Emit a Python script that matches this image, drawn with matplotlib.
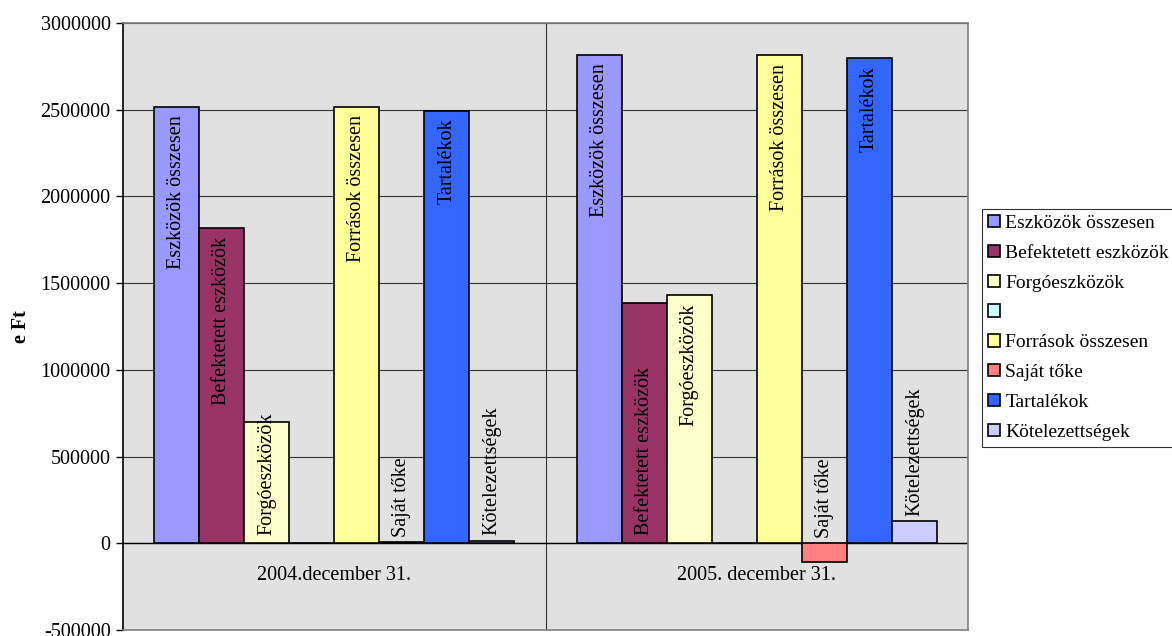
import matplotlib
matplotlib.use("Agg")
import matplotlib.pyplot as plt
import numpy as np

plt.rcParams['font.family'] = ['Liberation Serif', 'DejaVu Serif']

categories = ['2004.december 31.', '2005. december 31.']
series_names = ['Eszközök összesen', 'Befektetett eszközök', 'Forgóeszközök', '',
                'Források összesen', 'Saját tőke', 'Tartalékok', 'Kötelezettségek']
eszkozok = [2515000, 2814000]
befektetett = [1816000, 1384000]
forgo = [699000, 1430000]
ures = [0, 0]
forrasok = [2515000, 2814000]
sajat_toke = [5000, -110000]
tartalekok = [2495000, 2797000]
kotelezettsegek = [15000, 127000]
colors = ['#9999FF', '#993366', '#FFFFCC', '#CCFFFF',
          '#FFFF99', '#FF8080', '#3366FF', '#CCCCFF']

values = [eszkozok, befektetett, forgo, ures, forrasok, sajat_toke, tartalekok, kotelezettsegek]

# where each data label sits: inside top, inside base, or above the bar
label_modes = [['top', 'top'], ['top', 'base'], ['base', 'top'], ['', ''],
               ['top', 'top'], ['above', 'above'], ['top', 'top'], ['above', 'above']]

FS = 14.5

fig = plt.figure(figsize=(11.72, 6.36), dpi=100)
ax = fig.add_axes([0.105, 0.0094, 0.721, 0.9544])
ax.set_facecolor('#e1e1e1')

x = np.arange(len(categories))
width = 0.1066
n = len(series_names)
handles = []
for i, (name, vals, col) in enumerate(zip(series_names, values, colors)):
    pos = x + (i - (n - 1) / 2) * width
    b = ax.bar(pos, vals, width, color=col, edgecolor='black', linewidth=1.2,
               label=name if name else ' ', zorder=3)
    handles.append(b)
    if not name:
        continue
    for p, v, mode in zip(pos, vals, label_modes[i]):
        if mode == 'top':
            ax.annotate(name, (p, v), xytext=(0, -6), textcoords='offset points',
                        rotation=90, ha='center', va='top', fontsize=FS, zorder=4)
        elif mode == 'base':
            ax.annotate(name, (p, 0), xytext=(0, 6), textcoords='offset points',
                        rotation=90, ha='center', va='bottom', fontsize=FS, zorder=4)
        else:
            ax.annotate(name, (p, max(v, 0)), xytext=(0, 4), textcoords='offset points',
                        rotation=90, ha='center', va='bottom', fontsize=FS, zorder=4)

ax.set_xlim(-0.5, 1.5)
ax.set_ylim(-500000, 3000000)
ax.set_yticks(np.arange(-500000, 3000001, 500000))
ax.set_yticklabels([str(t) for t in range(-500000, 3000001, 500000)], fontsize=FS)
ax.set_xticks([])
ax.yaxis.grid(True, color='#333333', linewidth=0.8, zorder=1)
ax.axvline(0.5, color='#333333', linewidth=0.8, zorder=1)
ax.axhline(0, color='black', linewidth=1.0, zorder=2)
ax.tick_params(axis='y', direction='out', length=5, width=1, pad=4)

for xc, lab in zip(x, categories):
    ax.annotate(lab, (xc, 0), xytext=(0, -16), textcoords='offset points',
                ha='center', va='top', fontsize=FS)

for side in ['top', 'right', 'bottom']:
    ax.spines[side].set_color('#808080')
    ax.spines[side].set_linewidth(1.2)
ax.spines['left'].set_color('black')
ax.spines['left'].set_linewidth(1.2)

ax.set_ylabel('e Ft', fontsize=FS, fontweight='bold', labelpad=7)

leg = fig.legend(handles=handles, loc='upper left', bbox_to_anchor=(0.8379, 0.6714),
                 fontsize=14, frameon=True, fancybox=False, edgecolor='black',
                 handlelength=0.6, handleheight=0.6, handletextpad=0.3,
                 labelspacing=0.66, borderpad=0.3, borderaxespad=0)
leg.get_frame().set_linewidth(0.8)

fig.savefig('out.png', dpi=100)
